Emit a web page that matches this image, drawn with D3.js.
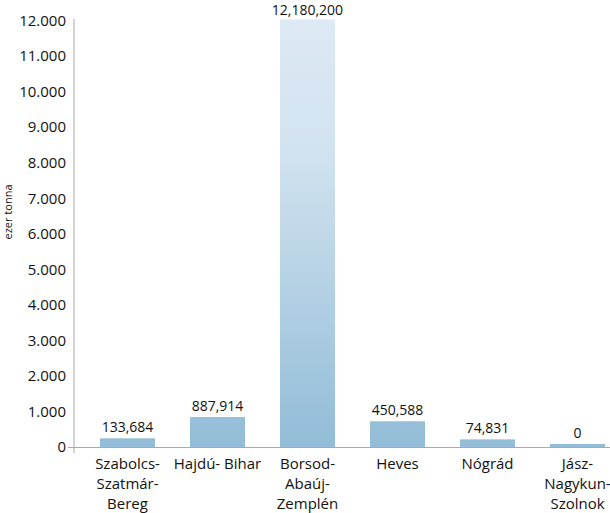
<!DOCTYPE html>
<html><head><meta charset="utf-8">
<script src="https://cdn.jsdelivr.net/npm/d3@7"></script>
<style>body{margin:0;background:#fff;}svg{display:block;}</style>
</head><body>
<svg id="c" width="610" height="513"></svg>
<script>
const categories = [["Szabolcs-","Szatmár-","Bereg"],["Hajdú- Bihar"],["Borsod-","Abaúj-","Zemplén"],["Heves"],["Nógrád"],["Jász-","Nagykun-","Szolnok"]];
const barValues = [245, 845, 12030, 725, 215, 85];
const valueLabels = ["133,684","887,914","12,180,200","450,588","74,831","0"];
const yTicks = [0,1000,2000,3000,4000,5000,6000,7000,8000,9000,10000,11000,12000];
const yTitle = "ezer tonna";

const svg = d3.select("#c");
const font = "'Open Sans', 'DejaVu Sans', sans-serif";
const x = d3.scaleBand().domain(d3.range(categories.length)).range([82.5, 622.5]).paddingInner(0.389).paddingOuter(0.1945);
const y = d3.scaleLinear().domain([0, 12000]).range([447, 20.5]);

const defs = svg.append("defs");
const g = defs.append("linearGradient").attr("id","bg").attr("gradientUnits","userSpaceOnUse")
  .attr("x1",0).attr("x2",0).attr("y1",y(12000)).attr("y2",y(0));
g.append("stop").attr("offset","0").attr("stop-color","#dde9f4");
g.append("stop").attr("offset","0.3").attr("stop-color","#d2e3f0");
g.append("stop").attr("offset","1").attr("stop-color","#92bcd7");

// bars
svg.append("g").selectAll("rect").data(barValues).join("rect")
  .attr("x",(d,i)=>x(i)).attr("width",x.bandwidth())
  .attr("y",d=>y(d)).attr("height",d=>y(0)-y(d))
  .attr("fill","url(#bg)");

// y axis
const yAxis = d3.axisLeft(y).tickValues(yTicks).tickSize(0).tickPadding(8)
  .tickFormat(d=>d===0?"0":d3.format(",")(d).replace(/,/g,"."));
const ya = svg.append("g").attr("transform","translate(74,0)").call(yAxis);
ya.select(".domain").remove();
ya.selectAll("text").attr("font-family",font).attr("font-size",15).attr("fill","#111");
svg.append("line").attr("x1",74).attr("x2",74).attr("y1",19).attr("y2",453).attr("stroke","#a9a9a9").attr("stroke-width",1);
svg.append("line").attr("x1",68).attr("x2",610).attr("y1",y(0)+0.5).attr("y2",y(0)+0.5).attr("stroke","#a9a9a9").attr("stroke-width",1);

// y title
svg.append("text").attr("transform","translate(12,"+212+") rotate(-90)")
  .attr("text-anchor","middle").attr("font-family",font).attr("font-size",11).attr("fill","#111").text(yTitle);

// value labels
svg.append("g").selectAll("text").data(barValues).join("text")
  .attr("x",(d,i)=>x(i)+x.bandwidth()/2).attr("y",d=>Math.max(y(d)-6,15))
  .attr("text-anchor","middle").attr("font-family",font).attr("font-size",14).attr("fill","#111")
  .text((d,i)=>valueLabels[i]);

// category labels
const cg = svg.append("g").selectAll("text").data(categories).join("text")
  .attr("text-anchor","middle").attr("font-family",font).attr("font-size",15).attr("fill","#111");
cg.each(function(lines,i){
  const t = d3.select(this);
  lines.forEach((l,j)=>{
    t.append("tspan").attr("x",x(i)+x.bandwidth()/2).attr("y",469+j*20).text(l);
  });
});
</script>
</body></html>
